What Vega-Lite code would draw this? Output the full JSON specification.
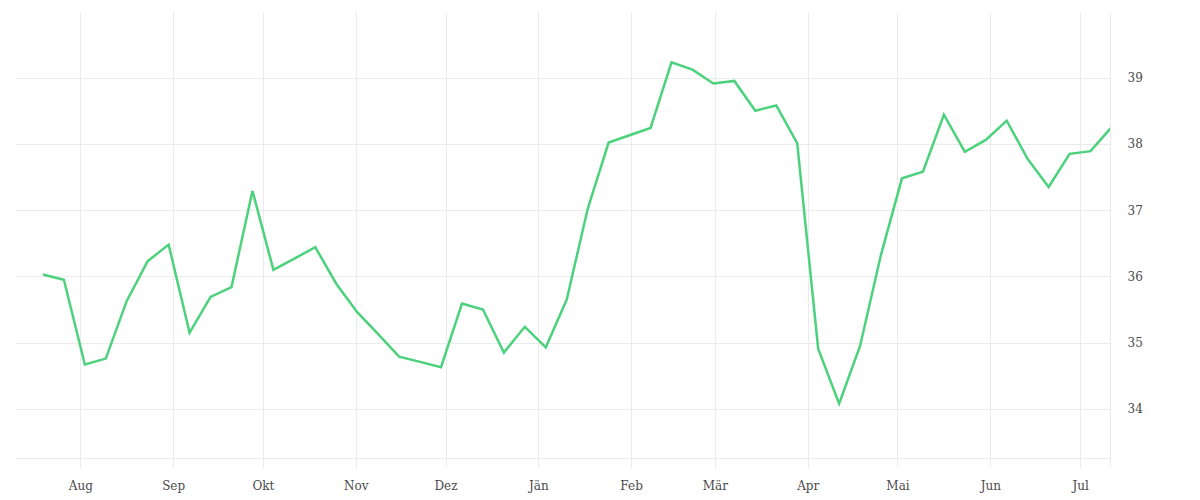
{
  "$schema": "https://vega.github.io/schema/vega-lite/v6.json",
  "autosize": "none",
  "width": 1095,
  "height": 446,
  "padding": {"left": 15, "top": 12, "right": 90, "bottom": 42},
  "background": "white",
  "config": {
    "view": {"stroke": null},
    "axis": {"labelFont": "DejaVu Serif", "labelFontSize": 12, "labelColor": "#4a4a4a", "gridColor": "#ebebeb", "gridWidth": 1, "domainColor": "#ebebeb", "tickColor": "#ebebeb", "title": null}
  },
  "data": {"values": [
    {"date": "2022-07-19T12:00:00Z", "value": 36.03},
    {"date": "2022-07-26T12:00:00Z", "value": 35.95},
    {"date": "2022-08-02T12:00:00Z", "value": 34.67},
    {"date": "2022-08-09T12:00:00Z", "value": 34.76},
    {"date": "2022-08-16T12:00:00Z", "value": 35.63},
    {"date": "2022-08-23T12:00:00Z", "value": 36.23},
    {"date": "2022-08-30T12:00:00Z", "value": 36.48},
    {"date": "2022-09-06T12:00:00Z", "value": 35.15},
    {"date": "2022-09-13T12:00:00Z", "value": 35.69},
    {"date": "2022-09-20T12:00:00Z", "value": 35.84},
    {"date": "2022-09-27T12:00:00Z", "value": 37.29},
    {"date": "2022-10-04T12:00:00Z", "value": 36.10},
    {"date": "2022-10-11T12:00:00Z", "value": 36.27},
    {"date": "2022-10-18T12:00:00Z", "value": 36.44},
    {"date": "2022-10-25T12:00:00Z", "value": 35.89},
    {"date": "2022-11-01T12:00:00Z", "value": 35.46},
    {"date": "2022-11-08T12:00:00Z", "value": 35.13},
    {"date": "2022-11-15T12:00:00Z", "value": 34.79},
    {"date": "2022-11-22T12:00:00Z", "value": 34.71},
    {"date": "2022-11-29T12:00:00Z", "value": 34.63},
    {"date": "2022-12-06T12:00:00Z", "value": 35.59},
    {"date": "2022-12-13T12:00:00Z", "value": 35.50},
    {"date": "2022-12-20T12:00:00Z", "value": 34.85},
    {"date": "2022-12-27T12:00:00Z", "value": 35.24},
    {"date": "2023-01-03T12:00:00Z", "value": 34.93},
    {"date": "2023-01-10T12:00:00Z", "value": 35.65},
    {"date": "2023-01-17T12:00:00Z", "value": 37.02},
    {"date": "2023-01-24T12:00:00Z", "value": 38.02},
    {"date": "2023-01-31T12:00:00Z", "value": 38.13},
    {"date": "2023-02-07T12:00:00Z", "value": 38.24},
    {"date": "2023-02-14T12:00:00Z", "value": 39.23},
    {"date": "2023-02-21T12:00:00Z", "value": 39.12},
    {"date": "2023-02-28T12:00:00Z", "value": 38.91},
    {"date": "2023-03-07T12:00:00Z", "value": 38.95},
    {"date": "2023-03-14T12:00:00Z", "value": 38.50},
    {"date": "2023-03-21T12:00:00Z", "value": 38.58},
    {"date": "2023-03-28T12:00:00Z", "value": 38.01},
    {"date": "2023-04-04T12:00:00Z", "value": 34.91},
    {"date": "2023-04-11T12:00:00Z", "value": 34.08},
    {"date": "2023-04-18T12:00:00Z", "value": 34.95},
    {"date": "2023-04-25T12:00:00Z", "value": 36.33},
    {"date": "2023-05-02T12:00:00Z", "value": 37.48},
    {"date": "2023-05-09T12:00:00Z", "value": 37.58},
    {"date": "2023-05-16T12:00:00Z", "value": 38.44},
    {"date": "2023-05-23T12:00:00Z", "value": 37.88},
    {"date": "2023-05-30T12:00:00Z", "value": 38.06},
    {"date": "2023-06-06T12:00:00Z", "value": 38.35},
    {"date": "2023-06-13T12:00:00Z", "value": 37.77},
    {"date": "2023-06-20T12:00:00Z", "value": 37.35},
    {"date": "2023-06-27T12:00:00Z", "value": 37.85},
    {"date": "2023-07-04T12:00:00Z", "value": 37.89},
    {"date": "2023-07-11T12:00:00Z", "value": 38.25}
  ]},
  "mark": {"type": "line", "color": "#4cd27c", "strokeWidth": 2.5, "strokeJoin": "miter", "clip": true},
  "encoding": {
    "x": {
      "field": "date",
      "type": "temporal",
      "scale": {"type": "utc", "domain": [
        {"year": 2022, "month": 7, "date": 10, "hours": 4, "utc": true},
        {"year": 2023, "month": 7, "date": 11, "utc": true}
      ]},
      "axis": {
        "orient": "bottom",
        "values": [
          {"year": 2022, "month": 8, "date": 1, "utc": true},
          {"year": 2022, "month": 9, "date": 1, "utc": true},
          {"year": 2022, "month": 10, "date": 1, "utc": true},
          {"year": 2022, "month": 11, "date": 1, "utc": true},
          {"year": 2022, "month": 12, "date": 1, "utc": true},
          {"year": 2023, "month": 1, "date": 1, "utc": true},
          {"year": 2023, "month": 2, "date": 1, "utc": true},
          {"year": 2023, "month": 3, "date": 1, "utc": true},
          {"year": 2023, "month": 4, "date": 1, "utc": true},
          {"year": 2023, "month": 5, "date": 1, "utc": true},
          {"year": 2023, "month": 6, "date": 1, "utc": true},
          {"year": 2023, "month": 7, "date": 1, "utc": true},
          {"year": 2023, "month": 7, "date": 11, "utc": true}
        ],
        "labelExpr": "utcdate(datum.value) == 1 ? ['Jän','Feb','Mär','Apr','Mai','Jun','Jul','Aug','Sep','Okt','Nov','Dez'][utcmonth(datum.value)] : ''",
        "grid": true,
        "ticks": true,
        "tickSize": 10,
        "domain": true,
        "labelPadding": 12,
        "labelFlush": false,
        "labelOverlap": false
      }
    },
    "y": {
      "field": "value",
      "type": "quantitative",
      "scale": {"domain": [33.26, 39.99], "nice": false, "zero": false},
      "axis": {
        "orient": "right",
        "values": [34, 35, 36, 37, 38, 39],
        "grid": true,
        "ticks": false,
        "domain": false,
        "labelPadding": 17
      }
    }
  }
}
